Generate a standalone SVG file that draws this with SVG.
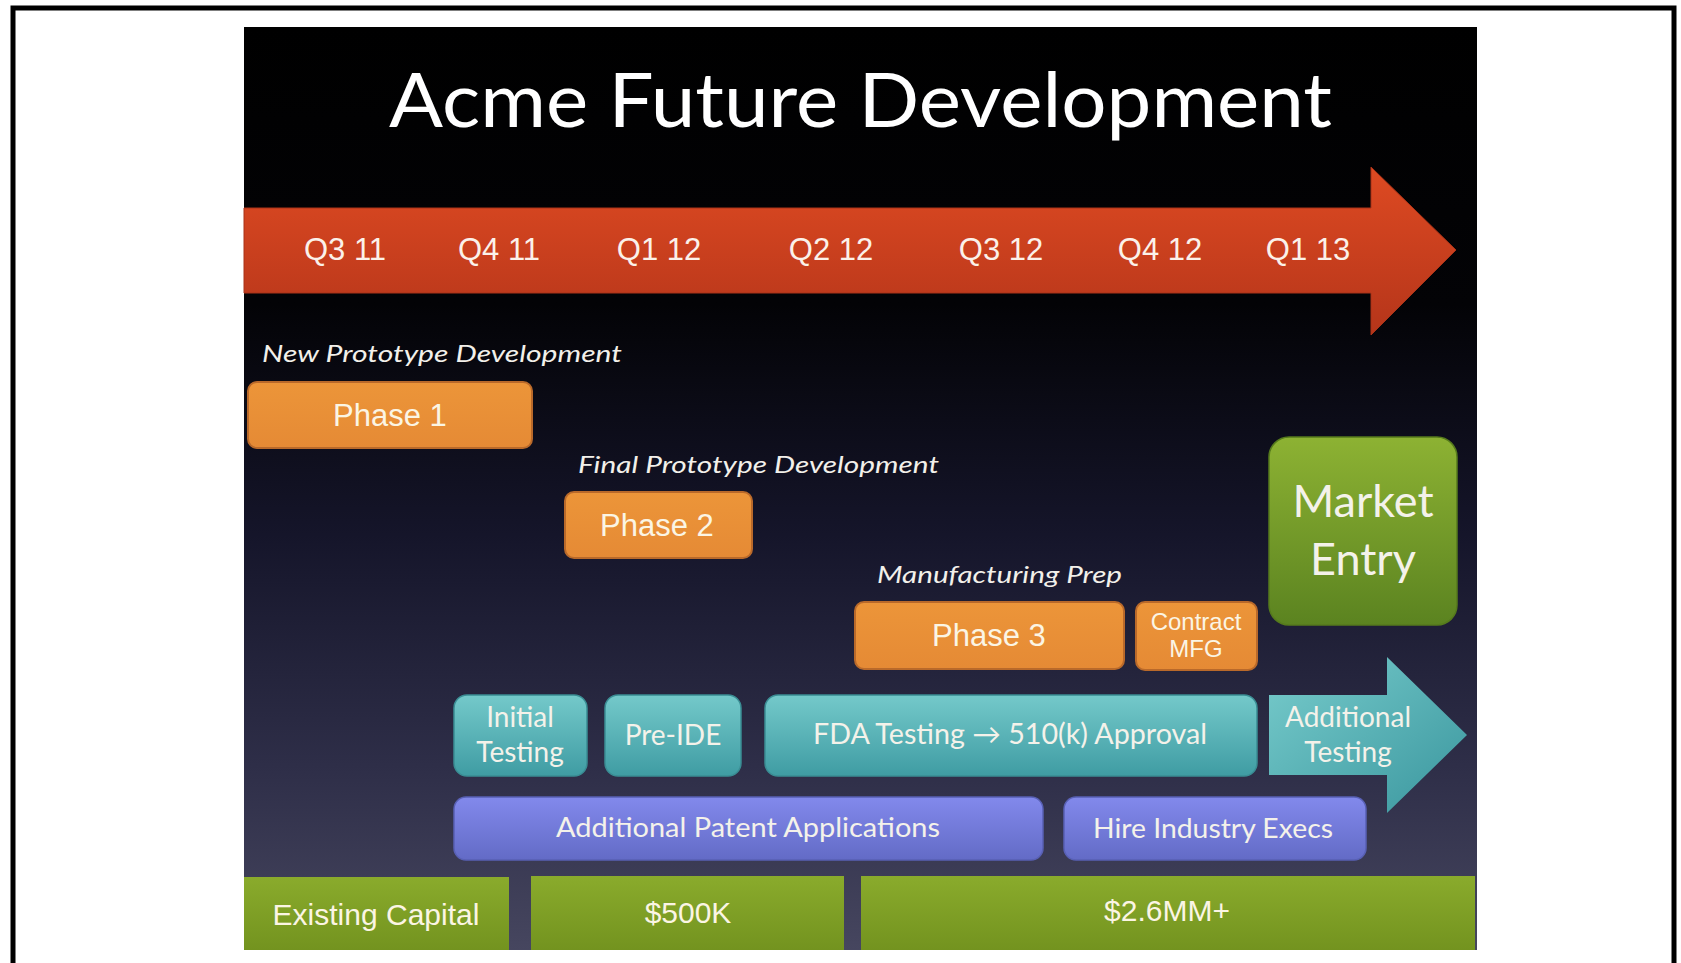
<svg xmlns="http://www.w3.org/2000/svg" width="1681" height="963" viewBox="0 0 1681 963">
<defs>
  <linearGradient id="bg" x1="0" y1="0" x2="0" y2="1">
    <stop offset="0" stop-color="#000000"/>
    <stop offset="0.3" stop-color="#030306"/>
    <stop offset="0.55" stop-color="#15152a"/>
    <stop offset="0.8" stop-color="#2e2e48"/>
    <stop offset="1" stop-color="#46465f"/>
  </linearGradient>
  <linearGradient id="red" x1="0" y1="0" x2="0" y2="1">
    <stop offset="0" stop-color="#de4a22"/>
    <stop offset="1" stop-color="#b5351a"/>
  </linearGradient>
  <linearGradient id="orange" x1="0" y1="0" x2="0" y2="1">
    <stop offset="0" stop-color="#ec9539"/>
    <stop offset="1" stop-color="#e58a35"/>
  </linearGradient>
  <linearGradient id="teal" x1="0" y1="0" x2="0" y2="1">
    <stop offset="0" stop-color="#74c9ca"/>
    <stop offset="1" stop-color="#3f9ca3"/>
  </linearGradient>
  <linearGradient id="tealArrow" x1="0" y1="0" x2="1" y2="1">
    <stop offset="0" stop-color="#78cccc"/>
    <stop offset="1" stop-color="#3a969e"/>
  </linearGradient>
  <linearGradient id="purple" x1="0" y1="0" x2="0" y2="1">
    <stop offset="0" stop-color="#8289ec"/>
    <stop offset="1" stop-color="#636bc6"/>
  </linearGradient>
  <linearGradient id="green" x1="0" y1="0" x2="0" y2="1">
    <stop offset="0" stop-color="#8aab2c"/>
    <stop offset="1" stop-color="#73931f"/>
  </linearGradient>
  <linearGradient id="market" x1="0" y1="0" x2="0" y2="1">
    <stop offset="0" stop-color="#8db233"/>
    <stop offset="1" stop-color="#5b8320"/>
  </linearGradient>
</defs>
<style>
  .cal { font-family: Lato, "Open Sans", "DejaVu Sans", sans-serif; fill: #f4f2ea; }
  .ital { font-family: Lato, "Open Sans", "DejaVu Sans", sans-serif; font-style: italic; font-size: 24px; fill: #f2f0ea; }
  .ari { font-family: "Liberation Sans", Arial, sans-serif; fill: #fbf5e4; }
  .q { font-size: 31px; text-anchor: middle; fill: #fbf1ea; }
  .ph { font-size: 31px; text-anchor: middle; }
  .ob { fill: url(#orange); stroke: #b9692a; stroke-width: 2; }
  .tb { fill: url(#teal); stroke: #3a8d94; stroke-width: 1.5; }
  .pb { fill: url(#purple); stroke: #5860b4; stroke-width: 1.5; }
  .gb { fill: url(#green); }
  .mid { text-anchor: middle; }
</style>
<rect x="0" y="0" width="1681" height="963" fill="#ffffff"/>
<rect x="13" y="8" width="1661" height="1000" fill="none" stroke="#000000" stroke-width="5"/>
<rect id="slide" x="244" y="27" width="1233" height="923" fill="url(#bg)"/>

<g id="title">
  <text class="cal" x="389" y="127" font-size="75" textLength="943" lengthAdjust="spacingAndGlyphs" style="fill:#ffffff">Acme Future Development</text>
</g>

<g id="timeline">
  <path d="M244,208 H1371 V167 L1456,250 L1371,335 V293 H244 Z" fill="url(#red)" stroke="#a93318" stroke-width="1"/>
  <text class="ari q" x="345" y="260">Q3 11</text>
  <text class="ari q" x="499" y="260">Q4 11</text>
  <text class="ari q" x="659" y="260">Q1 12</text>
  <text class="ari q" x="831" y="260">Q2 12</text>
  <text class="ari q" x="1001" y="260">Q3 12</text>
  <text class="ari q" x="1160" y="260">Q4 12</text>
  <text class="ari q" x="1308" y="260">Q1 13</text>
</g>

<g id="phase1">
  <text class="ital" x="262" y="362" textLength="360" lengthAdjust="spacingAndGlyphs">New Prototype Development</text>
  <rect class="ob" x="248" y="382" width="284" height="66" rx="9"/>
  <text class="ari ph" x="390" y="426">Phase 1</text>
</g>

<g id="phase2">
  <text class="ital" x="578" y="473" textLength="361" lengthAdjust="spacingAndGlyphs">Final Prototype Development</text>
  <rect class="ob" x="565" y="492" width="187" height="66" rx="9"/>
  <text class="ari ph" x="657" y="536">Phase 2</text>
</g>

<g id="phase3">
  <text class="ital" x="877" y="583" textLength="245" lengthAdjust="spacingAndGlyphs">Manufacturing Prep</text>
  <rect class="ob" x="855" y="602" width="269" height="67" rx="9"/>
  <text class="ari ph" x="989" y="646">Phase 3</text>
</g>

<g id="contract-mfg">
  <rect class="ob" x="1136" y="602" width="121" height="68" rx="9"/>
  <text class="ari mid" x="1196" y="630" font-size="24">Contract</text>
  <text class="ari mid" x="1196" y="657" font-size="24">MFG</text>
</g>

<g id="market-entry">
  <rect x="1269" y="437" width="188" height="188" rx="20" fill="url(#market)" stroke="#557a1c" stroke-width="1.5"/>
  <text class="cal mid" x="1363" y="517" font-size="45">Market</text>
  <text class="cal mid" x="1363" y="575" font-size="45">Entry</text>
</g>

<g id="initial-testing">
  <rect class="tb" x="454" y="695" width="133" height="81" rx="13"/>
  <text class="cal mid" x="520" y="727" font-size="28">Initial</text>
  <text class="cal mid" x="520" y="762" font-size="28">Testing</text>
</g>

<g id="pre-ide">
  <rect class="tb" x="605" y="695" width="136" height="81" rx="13"/>
  <text class="cal mid" x="673" y="745" font-size="28">Pre-IDE</text>
</g>

<g id="fda-testing">
  <rect class="tb" x="765" y="695" width="492" height="81" rx="13"/>
  <text class="cal mid" x="1010" y="744" font-size="28" textLength="394" lengthAdjust="spacingAndGlyphs">FDA Testing → 510(k) Approval</text>
</g>

<g id="additional-testing">
  <path d="M1269,695 H1387 V657 L1467,735 L1387,813 V775 H1269 Z" fill="url(#tealArrow)"/>
  <text class="cal mid" x="1348" y="727" font-size="28">Additional</text>
  <text class="cal mid" x="1348" y="762" font-size="28">Testing</text>
</g>

<g id="patents">
  <rect class="pb" x="454" y="797" width="589" height="63" rx="12"/>
  <text class="cal mid" x="748" y="837" font-size="27" textLength="384" lengthAdjust="spacingAndGlyphs">Additional Patent Applications</text>
</g>

<g id="hire-execs">
  <rect class="pb" x="1064" y="797" width="302" height="63" rx="12"/>
  <text class="cal mid" x="1213" y="838" font-size="27" textLength="240" lengthAdjust="spacingAndGlyphs">Hire Industry Execs</text>
</g>

<g id="existing-capital">
  <rect class="gb" x="244" y="877" width="265" height="73"/>
  <text class="ari mid" x="376" y="925" font-size="30">Existing Capital</text>
</g>

<g id="funding-500k">
  <rect class="gb" x="531" y="876" width="313" height="74"/>
  <text class="ari mid" x="688" y="923" font-size="30">$500K</text>
</g>

<g id="funding-2-6mm">
  <rect class="gb" x="861" y="876" width="614" height="74"/>
  <text class="ari mid" x="1167" y="921" font-size="30">$2.6MM+</text>
</g>

<g id="connectors"></g>
</svg>
